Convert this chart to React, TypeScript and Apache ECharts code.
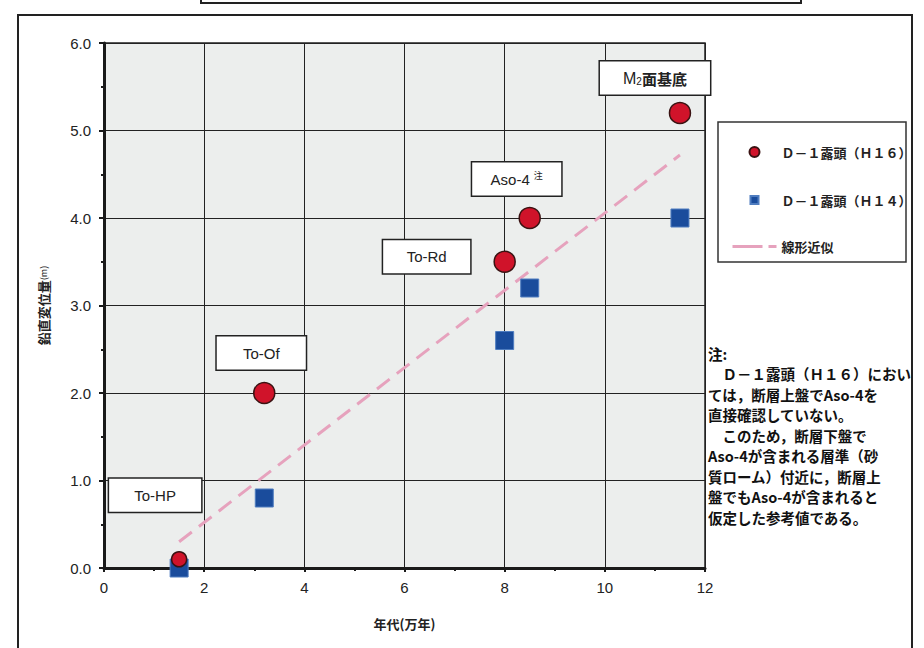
import React, { useEffect, useRef } from 'react';
import * as echarts from 'echarts';

// ---- data ----
const ageH16 = [1.5, 3.2, 8.0, 8.5, 11.5];
const dispH16 = [0.1, 2.0, 3.5, 4.0, 5.2];
const ageH14 = [1.5, 3.2, 8.0, 8.5, 11.5];
const dispH14 = [0.0, 0.8, 2.6, 3.2, 4.0];
const trendAge = [1.5, 11.5];
const trendDisp = [0.3, 4.72];
const tephraNames = ['To-HP', 'To-Of', 'To-Rd', 'Aso-4', 'M2面基底'];
const seriesNames = ['Ｄ－１露頭（Ｈ１６）', 'Ｄ－１露頭（Ｈ１４）', '線形近似'];
const xAxisName = '年代(万年)';
const yAxisName = '鉛直変位量';
const yAxisUnit = '(m)';
const noteLines = [
  '注:',
  '　Ｄ－１露頭（Ｈ１６）におい',
  'ては，断層上盤でAso-4を',
  '直接確認していない。',
  '　このため，断層下盤で',
  'Aso-4が含まれる層準（砂',
  '質ローム）付近に，断層上',
  '盤でもAso-4が含まれると',
  '仮定した参考値である。',
];

// ---- layout of annotation boxes (style only) ----
const labelOffsets = [[-24, -64], [-3, -40], [-78, -5], [-13, -39], [-25, -35]];
const labelWidths = [92, 89, 87, 89, 110];

const FONT = "'Liberation Sans', 'Noto Sans CJK JP', sans-serif";
const CJK = "'Noto Sans CJK JP', 'Liberation Sans', sans-serif";

function richName(name: string): string {
  if (name === 'Aso-4') return '{t|Aso-4 }{sup|注}';
  if (name.startsWith('M2')) return '{m|M}{sub|2}{c|' + name.slice(2) + '}';
  return '{t|' + name + '}';
}

export default function App() {
  const ref = useRef<HTMLDivElement>(null);
  useEffect(() => {
    if (!ref.current) return;
    const chart = echarts.init(ref.current, undefined, { renderer: 'svg' });
    const h16 = ageH16.map((a, i) => ({
      value: [a, dispH16[i]],
      name: tephraNames[i],
      symbolSize: i === 0 ? 15 : 21,
      label: {
        show: true,
        position: 'inside',
        offset: labelOffsets[i],
        width: labelWidths[i],
        formatter: richName(tephraNames[i]),
      },
    }));
    const h14 = ageH14.map((a, i) => [a, dispH14[i]]);
    const trend = trendAge.map((a, i) => [a, trendDisp[i]]);

    chart.setOption({
      animation: false,
      backgroundColor: '#ffffff',
      grid: {
        left: 104,
        right: 219,
        top: 43,
        bottom: 80,
        show: true,
        backgroundColor: '#eceeed',
        borderColor: '#222',
        borderWidth: 1.5,
      },
      xAxis: {
        type: 'value',
        min: 0,
        max: 12,
        interval: 2,
        name: xAxisName,
        nameLocation: 'middle',
        nameGap: 49,
        nameTextStyle: { fontFamily: CJK, fontSize: 13, fontWeight: 'bold', color: '#222' },
        axisLine: { show: true, lineStyle: { color: '#1a1a1a', width: 3 } },
        axisTick: { show: true, length: 4, lineStyle: { color: '#1a1a1a', width: 2 } },
        minorTick: { show: true, splitNumber: 2, length: 3, lineStyle: { color: '#1a1a1a', width: 2 } },
        axisLabel: { fontFamily: FONT, fontSize: 15, color: '#222', margin: 12 },
        splitLine: { show: true, lineStyle: { color: '#222', width: 1 } },
      },
      yAxis: {
        type: 'value',
        min: 0,
        max: 6,
        interval: 1,
        name: '{a|' + yAxisName + '}{b|' + yAxisUnit + '}',
        nameLocation: 'middle',
        nameRotate: 90,
        nameGap: 54,
        nameTextStyle: {
          rich: {
            a: { fontFamily: CJK, fontSize: 13, fontWeight: 'bold', color: '#222' },
            b: { fontFamily: CJK, fontSize: 9, color: '#222' },
          },
        },
        axisLine: { show: true, lineStyle: { color: '#1a1a1a', width: 3 } },
        axisTick: { show: true, length: 5, lineStyle: { color: '#1a1a1a', width: 2 } },
        minorTick: { show: true, splitNumber: 2, length: 3, lineStyle: { color: '#1a1a1a', width: 2 } },
        axisLabel: {
          fontFamily: FONT,
          fontSize: 15,
          color: '#222',
          margin: 13,
          formatter: (v: number) => v.toFixed(1),
        },
        splitLine: { show: true, lineStyle: { color: '#222', width: 1 } },
      },
      legend: {
        show: true,
        orient: 'vertical',
        left: 726,
        top: 139,
        itemWidth: 44,
        itemHeight: 14,
        itemGap: 32,
        data: [
          { name: seriesNames[0], icon: 'path://M0,0M14,14M2,7a5,5 0 1,0 10,0a5,5 0 1,0 -10,0z' },
          { name: seriesNames[1], icon: 'path://M0,0M14,14M3,3h8v8h-8z' },
          {
            name: seriesNames[2],
            lineStyle: { type: [30, 6], width: 3, color: '#e6a2bd' },
            itemStyle: { color: 'rgba(0,0,0,0)', borderColor: 'rgba(0,0,0,0)', borderWidth: 0 },
          },
        ],
        textStyle: { fontFamily: CJK, fontSize: 13, fontWeight: 'bold', color: '#222' },
      },
      graphic: [
        {
          type: 'rect',
          z: 0,
          shape: { x: 18, y: 15, width: 894, height: 660 },
          style: { fill: 'none', stroke: '#222', lineWidth: 2 },
        },
        {
          type: 'rect',
          z: 0,
          shape: { x: 201, y: -10, width: 600, height: 13 },
          style: { fill: 'none', stroke: '#222', lineWidth: 2 },
        },
        {
          type: 'rect',
          z: 0,
          shape: { x: 718, y: 122, width: 188, height: 140 },
          style: { fill: '#fff', stroke: '#333', lineWidth: 1.5 },
        },
        {
          type: 'text',
          z: 5,
          x: 708,
          y: 343,
          style: {
            text: noteLines.join('\n'),
            font: 'bold 14.5px ' + CJK,
            lineHeight: 20.5,
            fill: '#111',
          },
        },
      ],
      series: [
        {
          name: seriesNames[2],
          type: 'line',
          data: trend,
          symbol: 'none',
          z: 2,
          lineStyle: { color: '#e6a2bd', width: 3, type: [16, 9] },
          itemStyle: { color: '#e6a2bd' },
        },
        {
          name: seriesNames[1],
          type: 'scatter',
          data: h14,
          symbol: 'rect',
          symbolSize: 18,
          clip: false,
          z: 3,
          itemStyle: { color: '#1a4c9c', borderColor: '#4f7dc0', borderWidth: 1, opacity: 1 },
        },
        {
          name: seriesNames[0],
          type: 'scatter',
          data: h16,
          symbol: 'circle',
          clip: false,
          z: 4,
          itemStyle: { color: '#d0132a', borderColor: '#3a1212', borderWidth: 1.5, opacity: 1 },
          label: {
            backgroundColor: '#fff',
            borderColor: '#222',
            borderWidth: 1.5,
            textBorderWidth: 0,
            padding: [8, 0],
            align: 'center',
            rich: {
              t: { fontFamily: FONT, fontSize: 15, color: '#222', lineHeight: 17, textBorderWidth: 0 },
              m: { fontFamily: FONT, fontSize: 16, color: '#222', lineHeight: 17, textBorderWidth: 0 },
              c: { fontFamily: CJK, fontSize: 15, fontWeight: 'bold', color: '#222', lineHeight: 17, textBorderWidth: 0 },
              sub: { fontFamily: FONT, fontSize: 10, color: '#222', lineHeight: 17, verticalAlign: 'bottom', padding: [8, 0, 0, 0], textBorderWidth: 0 },
              sup: { fontFamily: CJK, fontSize: 9, color: '#222', lineHeight: 17, verticalAlign: 'top', padding: [0, 0, 6, 0], textBorderWidth: 0 },
            },
          },
        },
      ],
    });
    return () => chart.dispose();
  }, []);
  return (
    <div
      ref={ref}
      style={{ position: 'fixed', left: 0, top: 0, width: 924, height: 648 }}
    />
  );
}
